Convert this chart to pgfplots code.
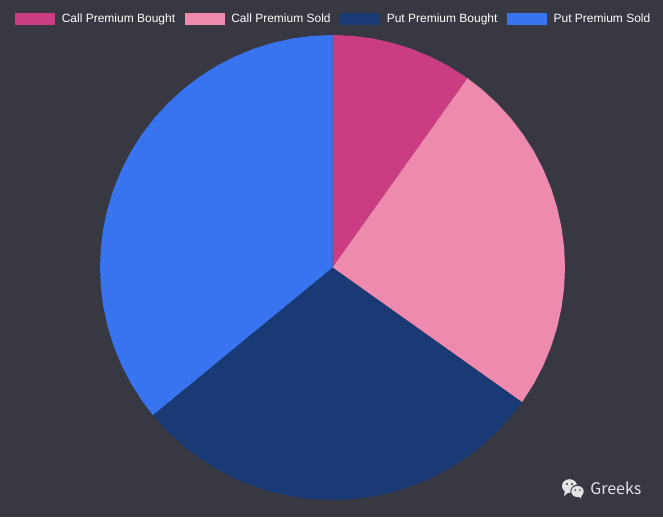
\documentclass[border=0pt]{standalone}
\usepackage{pgfplots}
\pgfplotsset{compat=1.18}
\usepackage{fontspec}
\setmainfont{Liberation Sans}
\newfontfamily\wm{Noto Sans CJK SC}
\definecolor{bgc}{HTML}{383842}
\definecolor{cA}{HTML}{CB3D83}
\definecolor{cB}{HTML}{EE8AAE}
\definecolor{cC}{HTML}{1A3A75}
\definecolor{cD}{HTML}{3874F0}
\definecolor{wmc}{HTML}{E4E4E6}
\begin{document}
\begin{tikzpicture}[x=0.75pt,y=0.75pt]
\fill[bgc] (0,0) rectangle (663,517);
\begin{axis}[
  at={(0,0)},anchor=south west,
  scale only axis,width=497.25pt,height=387.75pt,
  xmin=-332.5,xmax=330.5,ymin=-249.5,ymax=267.5,
  hide axis,clip=false,
  data cs=polar,
  legend columns=4,
  legend style={at={(rel axis cs:0.0226,0.975)},anchor=north west,draw=none,fill=none,
    inner xsep=0pt,inner ysep=0pt,
    font=\fontsize{9pt}{10pt}\selectfont,text=white,
    /tikz/every even column/.style={column sep=0pt},
    nodes={inner sep=0pt,anchor=base west},
    column sep=0pt},
  legend image code/.code={\fill[#1] (0pt,-2pt) rectangle (30pt,7pt);},
]
\addplot[fill=cA,draw=none] coordinates {(0,0) (90,232.5) (85,232.5) (80,232.5) (75,232.5) (70,232.5) (65,232.5) (60,232.5) (55,232.5) (54.5,232.5)} -- cycle;
\addlegendentry{\hspace{4.9pt}Call Premium Bought\rule{7.2pt}{0pt}}
\addplot[fill=cB,draw=none] coordinates {(0,0) (54.5,232.5) (50,232.5) (45,232.5) (40,232.5) (35,232.5) (30,232.5) (25,232.5) (20,232.5) (15,232.5) (10,232.5) (5,232.5) (0,232.5) (-5,232.5) (-10,232.5) (-15,232.5) (-20,232.5) (-25,232.5) (-30,232.5) (-35,232.5) (-35.4,232.5)} -- cycle;
\addlegendentry{\hspace{4.9pt}Call Premium Sold\rule{7.2pt}{0pt}}
\addplot[fill=cC,draw=none] coordinates {(0,0) (-35.4,232.5) (-40,232.5) (-45,232.5) (-50,232.5) (-55,232.5) (-60,232.5) (-65,232.5) (-70,232.5) (-75,232.5) (-80,232.5) (-85,232.5) (-90,232.5) (-95,232.5) (-100,232.5) (-105,232.5) (-110,232.5) (-115,232.5) (-120,232.5) (-125,232.5) (-130,232.5) (-135,232.5) (-140,232.5) (-140.6,232.5)} -- cycle;
\addlegendentry{\hspace{4.9pt}Put Premium Bought\rule{7.2pt}{0pt}}
\addplot[fill=cD,draw=none] coordinates {(0,0) (-140.6,232.5) (-145,232.5) (-150,232.5) (-155,232.5) (-160,232.5) (-165,232.5) (-170,232.5) (-175,232.5) (-180,232.5) (-185,232.5) (-190,232.5) (-195,232.5) (-200,232.5) (-205,232.5) (-210,232.5) (-215,232.5) (-220,232.5) (-225,232.5) (-230,232.5) (-235,232.5) (-240,232.5) (-245,232.5) (-250,232.5) (-255,232.5) (-260,232.5) (-265,232.5) (-270,232.5)} -- cycle;
\addlegendentry{\hspace{4.9pt}Put Premium Sold}
\end{axis}
% watermark (page coordinates in px, y from bottom)
\node[anchor=base west,inner sep=0pt,text=wmc,font=\wm\fontsize{12pt}{14pt}\selectfont] at (590,22.5) {Greeks};
\fill[wmc] (569.5,517-486) ellipse (7.5 and 6.8);
\fill[wmc] (564,517-496) -- (565,517-490) -- (569,517-492) -- cycle;
\fill[bgc] (578,517-491.5) ellipse (7.7 and 7);
\fill[wmc] (577.5,517-491.5) ellipse (6.2 and 5.6);
\fill[wmc] (581,517-498.5) -- (581.5,517-495) -- (578,517-496) -- cycle;
\fill[bgc] (567,517-484) circle (1.1);
\fill[bgc] (572,517-484) circle (1.1);
\fill[bgc] (575.3,517-490) circle (.9);
\fill[bgc] (580,517-490) circle (.9);
\end{tikzpicture}
\end{document}
